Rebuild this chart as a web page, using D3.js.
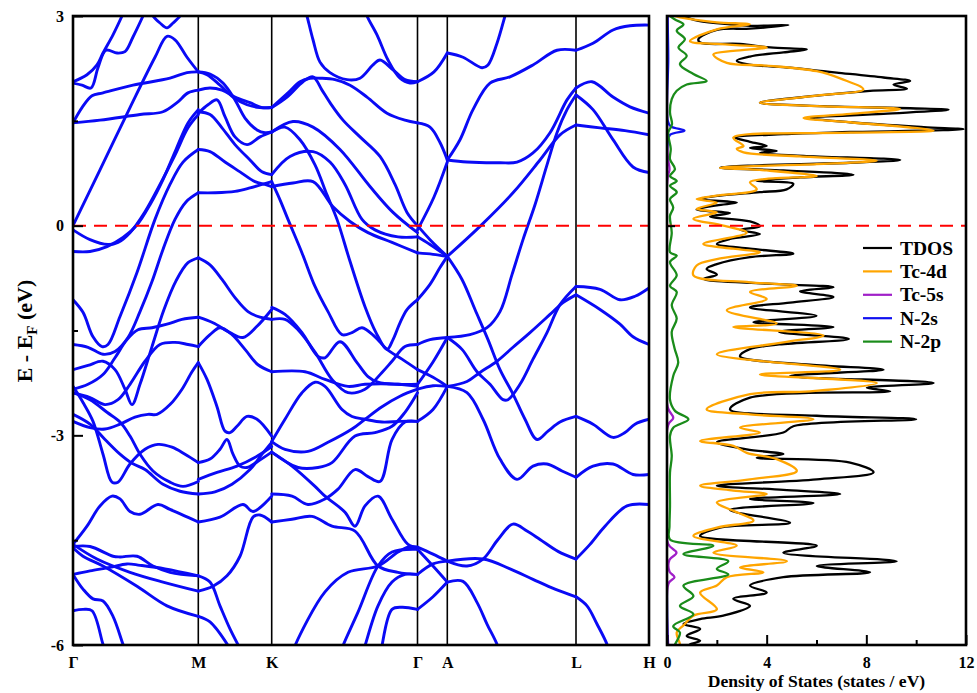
<!DOCTYPE html>
<html><head><meta charset="utf-8">
<script src="https://cdn.jsdelivr.net/npm/d3@7"></script>
<style>
body{margin:0;background:#fff}
svg{display:block}
text{font-family:"Liberation Serif","Times New Roman",serif;font-weight:bold}
</style></head>
<body><svg id="c" width="977" height="693"></svg>
<script>
// ---------- DATA ----------
const kSym = [0, 1.253, 1.987, 3.445, 3.743, 5.03, 5.76];
const kLabels = ["Γ","M","K","Γ","A","L","H"];
const eTicksMajor = [3, 0, -3, -6];
const eTicksMinor = [1.5, -1.5, -4.5];
const dosTicksMajor = [0, 4, 8, 12];
const dosTicksMinor = [2, 6, 10];

// bands: arrays of [k, E(eV)] per path segment
const bandsGM = [
 [[0,2.06],[0.14,2.16],[0.24,2.3],[0.30,2.47],[0.40,2.73],[0.49,3.0],[0.52,3.1]],
 [[0,2.04],[0.09,2.01],[0.18,1.97],[0.25,2.26],[0.33,2.51],[0.44,2.47],[0.52,2.49],[0.60,2.7],[0.70,3.0],[0.73,3.1]],
 [[0.77,3.1],[0.80,3.0],[0.87,2.9],[0.94,2.83],[1.0,2.9],[1.07,3.0],[1.10,3.1]],
 [[0,0],[0.27,0.8],[0.57,1.69],[0.82,2.41],[0.94,2.71],[1.02,2.66],[1.14,2.41],[1.253,2.2]],
 [[0,1.47],[0.09,1.69],[0.19,1.86],[0.30,1.9],[0.60,2.01],[0.97,2.11],[1.14,2.19],[1.253,2.2]],
 [[0,1.47],[0.27,1.51],[0.67,1.59],[0.90,1.63],[1.04,1.76],[1.15,1.9],[1.253,1.94]],
 [[0,-0.06],[0.17,-0.2],[0.35,-0.27],[0.45,-0.24],[0.57,-0.1],[0.72,0.2],[0.87,0.59],[1.02,1.01],[1.15,1.4],[1.253,1.59]],
 [[0,-0.37],[0.17,-0.37],[0.34,-0.3],[0.50,-0.17],[0.64,0.01],[0.77,0.3],[0.90,0.66],[1.03,1.09],[1.15,1.47],[1.253,1.66]],
 [[0,-1.06],[0.10,-1.24],[0.20,-1.59],[0.29,-1.73],[0.35,-1.7],[0.47,-1.3],[0.64,-0.67],[0.82,0.09],[0.97,0.59],[1.10,0.91],[1.253,1.09]],
 [[0,-1.7],[0.15,-1.74],[0.30,-1.84],[0.42,-1.8],[0.55,-1.6],[0.67,-1.23],[0.79,-0.8],[0.90,-0.34],[1.02,0.09],[1.13,0.34],[1.253,0.47]],
 [[0,-2.06],[0.15,-2.0],[0.30,-1.94],[0.42,-2.06],[0.52,-2.34],[0.59,-2.56],[0.67,-2.27],[0.79,-1.73],[0.91,-1.2],[1.03,-0.79],[1.15,-0.53],[1.253,-0.46]],
 [[0,-2.34],[0.15,-2.27],[0.30,-2.13],[0.42,-1.89],[0.54,-1.63],[0.65,-1.49],[0.79,-1.46],[0.94,-1.41],[1.09,-1.34],[1.253,-1.31]],
 [[0,-2.39],[0.17,-2.46],[0.32,-2.56],[0.45,-2.49],[0.57,-2.27],[0.72,-1.94],[0.87,-1.7],[1.02,-1.67],[1.15,-1.7],[1.253,-1.73]],
 [[0,-2.8],[0.17,-2.89],[0.32,-2.91],[0.47,-2.84],[0.62,-2.74],[0.75,-2.7],[0.84,-2.7],[0.97,-2.56],[1.09,-2.34],[1.19,-2.09],[1.253,-1.96]],
 [[0,-2.3],[0.10,-2.53],[0.20,-2.8],[0.30,-3.27],[0.39,-3.67],[0.45,-3.67],[0.57,-3.41],[0.72,-3.2],[0.85,-3.13],[0.99,-3.17],[1.12,-3.27],[1.253,-3.39]],
 [[0,-2.39],[0.17,-2.49],[0.34,-2.67],[0.47,-2.81],[0.57,-3.01],[0.67,-3.27],[0.80,-3.51],[0.97,-3.67],[1.10,-3.73],[1.253,-3.66]],
 [[0,-2.7],[0.17,-2.84],[0.32,-3.06],[0.47,-3.27],[0.59,-3.4],[0.72,-3.49],[0.90,-3.7],[1.07,-3.8],[1.253,-3.84]],
 [[0,-4.56],[0.14,-4.3],[0.27,-4.01],[0.39,-3.87],[0.47,-3.91],[0.57,-4.09],[0.67,-4.13],[0.85,-3.99],[0.97,-4.06],[1.253,-4.24]],
 [[0,-4.59],[0.17,-4.59],[0.40,-4.73],[0.47,-4.74],[0.64,-4.73],[0.80,-4.87],[0.97,-4.96],[1.253,-5.01]],
 [[0,-4.99],[0.17,-4.94],[0.37,-4.89],[0.54,-4.84],[0.67,-4.86],[0.92,-4.91],[1.253,-5.01]],
 [[0,-4.56],[0.24,-4.77],[0.57,-4.96],[0.90,-5.1],[1.253,-5.23]],
 [[0,-4.61],[0.10,-4.73],[0.30,-4.87],[0.64,-5.16],[0.94,-5.44],[1.253,-5.59]],
 [[0,-4.99],[0.10,-5.2],[0.20,-5.34],[0.30,-5.37],[0.40,-5.59],[0.50,-5.99],[0.53,-6.1]],
 [[0,-5.51],[0.10,-5.49],[0.19,-5.51],[0.30,-5.99],[0.33,-6.1]]
];
const bandsMK = [
 [[1.253,2.2],[1.34,2.16],[1.47,2.01],[1.60,1.84],[1.74,1.73],[1.87,1.69],[1.987,1.69]],
 [[1.253,2.2],[1.37,2.17],[1.50,2.04],[1.62,1.8],[1.72,1.54],[1.84,1.37],[1.92,1.33],[1.987,1.34]],
 [[1.253,1.94],[1.37,1.97],[1.49,1.94],[1.62,1.84],[1.77,1.76],[1.89,1.69],[1.987,1.69]],
 [[1.253,1.61],[1.35,1.73],[1.44,1.8],[1.52,1.56],[1.62,1.27],[1.74,1.16],[1.87,1.27],[1.987,1.34]],
 [[1.253,1.63],[1.37,1.59],[1.49,1.4],[1.62,1.16],[1.77,0.94],[1.89,0.77],[1.987,0.73]],
 [[1.253,1.09],[1.37,1.06],[1.52,0.91],[1.67,0.77],[1.82,0.63],[1.92,0.59],[1.987,0.56]],
 [[1.253,0.47],[1.42,0.47],[1.62,0.49],[1.77,0.54],[1.89,0.59],[1.987,0.63]],
 [[1.253,-0.46],[1.37,-0.56],[1.49,-0.77],[1.62,-1.03],[1.75,-1.23],[1.87,-1.31],[1.987,-1.34]],
 [[1.253,-1.31],[1.40,-1.39],[1.57,-1.53],[1.70,-1.6],[1.84,-1.44],[1.987,-1.2]],
 [[1.253,-1.73],[1.37,-1.56],[1.47,-1.46],[1.59,-1.56],[1.72,-1.77],[1.85,-1.99],[1.987,-2.09]],
 [[1.253,-1.96],[1.34,-2.2],[1.44,-2.59],[1.52,-2.94],[1.57,-2.96],[1.64,-2.87],[1.74,-2.73],[1.84,-2.77],[1.987,-3.01]],
 [[1.253,-3.39],[1.37,-3.34],[1.47,-3.2],[1.54,-3.06],[1.60,-3.27],[1.67,-3.44],[1.74,-3.46],[1.85,-3.37],[1.987,-3.24]],
 [[1.253,-3.63],[1.44,-3.53],[1.64,-3.44],[1.84,-3.3],[1.987,-3.16]],
 [[1.253,-3.84],[1.42,-3.81],[1.59,-3.7],[1.77,-3.49],[1.89,-3.27],[1.987,-3.1]],
 [[1.253,-4.24],[1.47,-4.17],[1.70,-3.99],[1.80,-4.09],[1.987,-3.87]],
 [[1.253,-5.23],[1.40,-5.16],[1.54,-5.01],[1.67,-4.73],[1.80,-4.17],[1.87,-4.14],[1.987,-4.24]],
 [[1.253,-5.01],[1.37,-5.1],[1.47,-5.44],[1.57,-5.77],[1.67,-6.05]],
 [[1.253,-5.59],[1.37,-5.67],[1.57,-6.05]]
];
const bandsKG = [
 [[1.987,1.69],[2.14,1.84],[2.30,2.06],[2.40,2.13],[2.49,1.94],[2.57,1.76],[2.70,1.51],[2.87,1.27],[3.07,0.99],[3.22,0.59],[3.34,0.19],[3.445,0]],
 [[1.987,1.69],[2.15,1.9],[2.27,2.06],[2.37,2.11],[2.47,2.11],[2.62,2.09],[2.77,2.01],[2.94,1.84],[3.14,1.61],[3.32,1.51],[3.445,1.47]],
 [[2.32,3.1],[2.34,3.0],[2.40,2.66],[2.47,2.34],[2.57,2.19],[2.74,2.09],[2.87,2.11],[3.0,2.3],[3.07,2.37],[3.20,2.23],[3.32,2.09],[3.445,2.06]],
 [[2.92,3.1],[2.94,3.0],[3.04,2.73],[3.15,2.37],[3.27,2.11],[3.37,2.04],[3.445,2.06]],
 [[1.987,1.34],[2.20,1.49],[2.40,1.41],[2.67,1.09],[2.97,0.56],[3.20,0.19],[3.445,-0.1]],
 [[1.987,0.73],[2.17,0.99],[2.40,1.06],[2.57,0.91],[2.72,0.59],[2.89,0.09],[3.02,-0.06],[3.25,-0.16],[3.445,-0.16]],
 [[1.987,0.56],[2.20,0.61],[2.40,0.63],[2.60,0.27],[2.77,0.06],[2.95,-0.1],[3.19,-0.24],[3.445,-0.39]],
 [[1.987,0.63],[2.07,0.37],[2.15,0.09],[2.29,-0.39],[2.42,-0.87],[2.55,-1.23],[2.69,-1.56],[2.79,-1.53],[2.89,-1.46],[3.02,-1.59],[3.14,-1.77],[3.29,-1.91],[3.445,-2.06]],
 [[1.987,1.34],[2.12,1.41],[2.27,1.23],[2.42,0.87],[2.54,0.44],[2.64,0.09],[2.77,-0.51],[2.92,-1.16],[3.03,-1.53],[3.14,-1.77],[3.20,-1.63],[3.27,-1.39],[3.34,-1.2],[3.445,-1.06]],
 [[1.987,-1.17],[2.12,-1.27],[2.29,-1.53],[2.45,-1.87],[2.52,-1.89],[2.67,-1.66],[2.84,-1.96],[2.95,-2.16],[3.05,-2.24],[3.25,-2.27],[3.445,-2.27]],
 [[1.987,-1.34],[2.12,-1.34],[2.25,-1.49],[2.42,-1.81],[2.59,-2.2],[2.75,-2.39],[2.92,-2.34],[3.09,-2.1],[3.19,-1.94],[3.32,-1.73],[3.445,-1.7]],
 [[1.987,-2.09],[2.32,-2.09],[2.52,-2.2],[2.75,-2.3],[2.92,-2.27],[3.25,-2.27],[3.445,-2.3]],
 [[1.987,-3.09],[2.12,-2.77],[2.29,-2.39],[2.42,-2.24],[2.52,-2.3],[2.69,-2.63],[2.79,-2.73],[2.92,-2.77],[3.09,-2.81],[3.27,-2.8],[3.445,-2.8]],
 [[1.987,-3.24],[2.25,-3.46],[2.45,-3.46],[2.59,-3.39],[2.82,-3.01],[3.02,-2.96],[3.19,-2.87],[3.32,-2.67],[3.445,-2.39]],
 [[1.987,-3.09],[2.12,-3.2],[2.35,-3.23],[2.55,-3.1],[2.79,-2.91],[2.92,-2.77],[3.09,-2.59],[3.27,-2.44],[3.445,-2.34]],
 [[1.987,-3.24],[2.19,-3.44],[2.42,-3.73],[2.52,-3.87],[2.72,-4.1],[2.82,-4.3],[2.92,-4.01],[3.05,-3.87],[3.19,-4.2],[3.35,-4.56],[3.445,-4.6]],
 [[1.987,-3.84],[2.19,-3.87],[2.35,-3.99],[2.52,-3.91],[2.65,-3.77],[2.82,-3.49],[2.95,-3.59],[3.07,-3.66],[3.19,-3.06],[3.32,-2.81],[3.445,-2.8]],
 [[1.987,-4.24],[2.19,-4.2],[2.39,-4.16],[2.59,-4.3],[2.82,-4.37],[3.05,-4.87],[3.25,-4.96],[3.445,-4.99]],
 [[2.20,-6.1],[2.22,-6.01],[2.52,-5.24],[2.75,-4.96],[3.05,-4.87],[3.25,-4.67],[3.35,-4.6],[3.445,-4.6]],
 [[2.68,-6.1],[2.70,-6.01],[2.85,-5.53],[3.05,-4.87],[3.19,-4.67],[3.445,-4.63]],
 [[2.90,-6.1],[2.92,-6.01],[3.05,-5.44],[3.19,-5.1],[3.32,-4.99],[3.445,-4.99]],
 [[3.08,-6.1],[3.09,-6.01],[3.19,-5.49],[3.29,-5.46],[3.445,-5.49]]
];
const bandsGA = [
 [[3.445,2.06],[3.61,2.2],[3.743,2.47]],
 [[3.445,1.47],[3.57,1.41],[3.67,1.19],[3.743,0.94]],
 [[3.445,-0.06],[3.61,0.41],[3.743,0.91]],
 [[3.445,-0.16],[3.57,-0.27],[3.743,-0.44]],
 [[3.445,-0.39],[3.60,-0.41],[3.743,-0.44]],
 [[3.445,0],[3.57,-0.2],[3.743,-0.44]],
 [[3.445,-1.06],[3.57,-0.84],[3.67,-0.6],[3.743,-0.44]],
 [[3.445,-1.7],[3.57,-1.63],[3.743,-1.6]],
 [[3.445,-2.06],[3.60,-2.17],[3.743,-2.3]],
 [[3.445,-2.34],[3.60,-2.29],[3.743,-2.3]],
 [[3.445,-2.8],[3.60,-2.63],[3.743,-2.3]],
 [[3.445,-2.27],[3.60,-1.95],[3.743,-1.6]],
 [[3.445,-4.6],[3.60,-4.7],[3.743,-4.8]],
 [[3.445,-4.99],[3.60,-4.84],[3.743,-4.8]],
 [[3.445,-5.49],[3.60,-5.31],[3.743,-5.1]],
 [[3.445,-4.63],[3.60,-4.87],[3.743,-5.1]]
];
const bandsAL = [
 [[3.743,2.47],[3.90,2.41],[4.09,2.26],[4.15,2.3],[4.24,2.61],[4.32,3.0],[4.34,3.1]],
 [[3.743,0.94],[3.87,1.23],[4.0,1.66],[4.17,2.04],[4.37,2.13],[4.60,2.3],[4.84,2.51],[5.03,2.51]],
 [[3.743,0.94],[3.94,0.91],[4.27,0.9],[4.44,0.91],[4.60,1.04],[4.77,1.33],[4.94,1.8],[5.03,1.97]],
 [[3.743,-0.44],[4.07,-0.01],[4.40,0.47],[4.67,0.94],[4.87,1.3],[5.03,1.44]],
 [[3.743,-1.6],[3.97,-1.56],[4.14,-1.46],[4.27,-1.23],[4.39,-0.7],[4.50,-0.2],[4.62,0.3],[4.74,0.87],[4.84,1.33],[4.94,1.66],[5.03,1.87]],
 [[3.743,-1.6],[3.89,-1.77],[4.04,-2.09],[4.17,-2.27],[4.30,-2.49],[4.35,-2.49],[4.47,-2.27],[4.60,-1.91],[4.74,-1.53],[4.87,-1.13],[5.03,-0.87]],
 [[3.743,-2.3],[3.94,-2.23],[4.07,-2.1],[4.24,-1.94],[4.40,-1.74],[4.57,-1.53],[4.77,-1.27],[4.90,-1.1],[5.03,-0.99]],
 [[3.743,-0.44],[3.89,-0.77],[4.02,-1.2],[4.15,-1.63],[4.27,-2.06],[4.40,-2.41],[4.52,-2.77],[4.64,-3.06],[4.75,-2.94],[4.87,-2.81],[5.03,-2.73]],
 [[3.743,-2.3],[3.94,-2.39],[4.10,-2.77],[4.27,-3.34],[4.44,-3.63],[4.60,-3.44],[4.74,-3.41],[4.89,-3.51],[5.03,-3.6]],
 [[3.743,-4.8],[3.94,-4.87],[4.10,-4.77],[4.25,-4.49],[4.40,-4.27],[4.54,-4.37],[4.67,-4.49],[4.85,-4.66],[5.03,-4.77]],
 [[3.743,-4.8],[4.10,-4.77],[4.37,-4.91],[4.60,-5.06],[4.82,-5.2],[5.03,-5.31]],
 [[3.743,-5.1],[3.90,-5.09],[4.04,-5.39],[4.14,-5.7],[4.24,-5.99],[4.26,-6.1]]
];
const bandsLH = [
 [[5.03,2.51],[5.20,2.61],[5.40,2.8],[5.57,2.86],[5.76,2.87]],
 [[5.03,1.97],[5.19,2.06],[5.40,1.84],[5.57,1.7],[5.76,1.61]],
 [[5.03,1.44],[5.27,1.4],[5.52,1.36],[5.76,1.3]],
 [[5.03,1.87],[5.20,1.66],[5.40,1.23],[5.60,0.84],[5.76,0.76]],
 [[5.03,-0.87],[5.27,-0.91],[5.47,-1.06],[5.62,-1.01],[5.76,-0.89]],
 [[5.03,-0.99],[5.27,-1.2],[5.47,-1.41],[5.60,-1.59],[5.76,-1.7]],
 [[5.03,-2.73],[5.20,-2.84],[5.40,-3.03],[5.52,-2.96],[5.62,-2.84],[5.76,-2.77]],
 [[5.03,-3.6],[5.20,-3.44],[5.40,-3.41],[5.60,-3.56],[5.76,-3.56]],
 [[5.03,-4.77],[5.17,-4.56],[5.32,-4.3],[5.54,-4.01],[5.76,-3.99]],
 [[5.03,-5.31],[5.14,-5.44],[5.24,-5.7],[5.34,-5.99],[5.36,-6.1]]
];

// DOS: arrays of [E(eV), states/eV]
const tdos = [[3.0,0.5],[2.99,0.66],[2.93,1.26],[2.88,2.53],[2.86,3.33],[2.87,4.87],[2.82,3.33],[2.8,2.0],[2.67,1.26],[2.62,1.33],[2.6,2.93],[2.55,4.14],[2.52,5.61],[2.48,4.67],[2.42,3.33],[2.36,2.8],[2.31,3.2],[2.26,4.94],[2.21,6.28],[2.19,6.81],[2.12,8.69],[2.07,9.76],[2.02,9.09],[1.96,9.63],[1.93,8.15],[1.86,6.01],[1.76,3.73],[1.71,6.28],[1.68,9.76],[1.66,11.3],[1.6,8.69],[1.54,5.74],[1.48,7.35],[1.41,10.3],[1.38,11.9],[1.34,7.35],[1.31,4.67],[1.26,2.73],[1.2,3.33],[1.14,4.0],[1.11,3.33],[1.07,4.4],[1.04,3.73],[1.0,5.48],[0.94,9.36],[0.9,7.35],[0.86,3.33],[0.83,2.13],[0.79,4.67],[0.73,7.48],[0.69,5.34],[0.64,3.6],[0.6,5.07],[0.52,4.8],[0.48,3.73],[0.43,2.13],[0.38,1.33],[0.33,2.8],[0.29,2.0],[0.23,1.19],[0.18,2.53],[0.13,1.73],[0.06,3.33],[-0.01,3.73],[-0.06,2.93],[-0.12,3.73],[-0.19,2.53],[-0.26,2.0],[-0.33,3.33],[-0.4,5.07],[-0.45,3.33],[-0.55,2.0],[-0.62,1.59],[-0.7,2.0],[-0.76,1.46],[-0.83,4.0],[-0.88,6.68],[-0.94,5.34],[-1.02,6.68],[-1.1,4.94],[-1.17,3.33],[-1.29,6.0],[-1.38,3.47],[-1.45,6.68],[-1.52,4.5],[-1.62,7.3],[-1.7,4.5],[-1.77,3.3],[-1.87,2.93],[-1.99,5.74],[-2.06,8.69],[-2.15,4.94],[-2.25,10.7],[-2.32,8.02],[-2.37,8.96],[-2.46,3.33],[-2.63,2.53],[-2.72,6.01],[-2.77,10.0],[-2.87,5.07],[-2.96,4.67],[-3.1,2.0],[-3.2,3.2],[-3.27,4.67],[-3.32,3.6],[-3.39,7.35],[-3.53,8.29],[-3.63,6.01],[-3.72,2.0],[-3.78,4.67],[-3.84,6.95],[-3.91,3.33],[-3.97,5.88],[-4.07,2.53],[-4.25,4.94],[-4.32,2.13],[-4.44,1.33],[-4.58,6.01],[-4.68,4.67],[-4.8,9.22],[-4.87,6.01],[-4.96,8.15],[-5.03,4.67],[-5.15,3.33],[-5.25,4.0],[-5.34,2.66],[-5.44,3.33],[-5.58,2.26],[-5.63,1.33],[-5.70,0.66],[-5.77,1.33],[-5.87,0.79],[-5.94,1.33],[-5.99,0.92],[-6.0,0.9]];
const tc4d = [[3.0,0.3],[2.98,0.52],[2.91,2.0],[2.88,3.33],[2.81,2.0],[2.64,0.92],[2.6,2.0],[2.55,4.0],[2.5,2.66],[2.45,1.86],[2.33,2.4],[2.29,4.0],[2.21,6.01],[2.1,7.0],[1.95,7.88],[1.86,6.01],[1.76,3.73],[1.71,6.01],[1.67,9.36],[1.6,7.35],[1.54,5.48],[1.48,7.35],[1.36,10.7],[1.33,7.35],[1.26,2.66],[1.14,3.07],[1.1,2.8],[1.05,3.07],[0.99,5.34],[0.93,8.42],[0.88,6.01],[0.83,2.13],[0.79,4.0],[0.71,6.01],[0.67,4.0],[0.62,3.33],[0.52,3.6],[0.43,2.0],[0.38,1.19],[0.33,2.0],[0.24,1.19],[0.19,2.0],[0.1,1.06],[0.0,2.26],[-0.1,3.2],[-0.26,1.46],[-0.33,2.66],[-0.38,3.73],[-0.48,2.0],[-0.57,1.19],[-0.71,1.06],[-0.81,3.33],[-0.86,5.21],[-0.95,3.33],[-1.05,4.0],[-1.21,2.4],[-1.4,4.4],[-1.45,2.66],[-1.57,6.28],[-1.67,4.67],[-1.84,2.0],[-2.06,6.95],[-2.13,3.73],[-2.25,8.42],[-2.37,5.74],[-2.41,3.33],[-2.63,1.59],[-2.7,3.33],[-2.77,5.88],[-2.89,2.93],[-2.96,3.73],[-3.08,1.33],[-3.15,2.66],[-3.25,3.2],[-3.34,4.4],[-3.51,5.21],[-3.63,3.33],[-3.72,1.33],[-3.79,2.66],[-3.84,4.0],[-3.96,2.0],[-4.08,2.66],[-4.22,3.47],[-4.32,2.0],[-4.44,1.06],[-4.58,2.8],[-4.68,1.86],[-4.8,4.81],[-4.89,2.93],[-4.96,3.87],[-5.03,2.4],[-5.15,2.0],[-5.25,1.33],[-5.49,2.0],[-5.58,1.06],[-5.72,0.66],[-5.82,0.39],[-5.99,0.52],[-6.0,0.5]];
const tc5s = [[3.0,0.02],[1.0,0.03],[0.8,0.1],[0.7,0.03],[-2.6,0.03],[-2.75,0.25],[-2.85,0.05],[-4.55,0.04],[-4.68,0.38],[-4.78,0.1],[-4.95,0.1],[-5.03,0.3],[-5.12,0.06],[-6.0,0.05]];
const n2s = [[3.0,0.02],[2.4,0.05],[1.5,0.03],[1.42,0.15],[1.36,0.7],[1.3,0.12],[1.2,0.03],[-6.0,0.02]];
const n2p = [[3.0,0.12],[2.95,0.32],[2.88,0.66],[2.79,0.39],[2.67,0.72],[2.55,0.46],[2.43,0.79],[2.31,0.52],[2.17,1.06],[2.07,1.59],[2.02,0.79],[1.93,0.39],[1.81,0.19],[1.62,0.12],[1.45,0.2],[1.33,0.05],[1.1,0.15],[0.95,0.12],[0.81,0.32],[0.71,0.12],[0.64,0.39],[0.57,0.12],[0.48,0.39],[0.38,0.12],[0.26,0.25],[0.14,0.12],[-0.1,0.19],[-0.38,0.12],[-0.43,0.39],[-0.52,0.12],[-0.71,0.39],[-0.86,0.12],[-0.95,0.39],[-1.14,0.19],[-1.33,0.39],[-1.52,0.19],[-1.75,0.3],[-1.96,0.45],[-2.15,0.25],[-2.49,0.12],[-2.65,0.32],[-2.77,0.86],[-2.89,0.25],[-3.01,0.12],[-3.3,0.19],[-3.53,0.12],[-4.01,0.12],[-4.3,0.1],[-4.49,0.12],[-4.58,1.86],[-4.7,0.66],[-4.8,2.46],[-4.91,2.0],[-4.99,2.46],[-5.15,0.66],[-5.3,1.06],[-5.44,0.52],[-5.56,1.06],[-5.73,0.25],[-5.82,0.52],[-5.99,0.32],[-6.0,0.3]];

const dosNames = ["TDOS","Tc-4d","Tc-5s","N-2s","N-2p"];
const dosColors = ["#000000","#FFA500","#A020C8","#1010F0","#1A8C1A"];

// ---------- CHART ----------
const svg = d3.select("#c");
const x = d3.scaleLinear().domain([0, 5.76]).range([73, 649]);
const y = d3.scaleLinear().domain([-6, 3]).range([645, 16]);
const xd = d3.scaleLinear().domain([0, 12]).range([667, 966]);
const FONT = '"Liberation Serif","Times New Roman",serif';

const defs = svg.append("defs");
defs.append("clipPath").attr("id","cb").append("rect")
  .attr("x", x(0)).attr("y", y(3)).attr("width", x(5.76)-x(0)).attr("height", y(-6)-y(3));
defs.append("clipPath").attr("id","cd").append("rect")
  .attr("x", xd(0)).attr("y", y(3)).attr("width", xd(12)-xd(0)).attr("height", y(-6)-y(3));

// high-symmetry vertical lines
svg.append("g").selectAll("line").data(kSym.slice(1,-1)).join("line")
  .attr("x1", d=>x(d)).attr("x2", d=>x(d)).attr("y1", y(3)).attr("y2", y(-6))
  .attr("stroke","#000").attr("stroke-width",1.6);

// bands
const bandLine = d3.line().x(d=>x(d[0])).y(d=>y(d[1])).curve(d3.curveCatmullRom.alpha(0.5));
const allBands = [].concat(bandsGM, bandsMK, bandsKG, bandsGA, bandsAL, bandsLH);
svg.append("g").attr("clip-path","url(#cb)").selectAll("path").data(allBands).join("path")
  .attr("d", bandLine).attr("fill","none").attr("stroke","#0a0af5")
  .attr("stroke-width",2.9).attr("stroke-linejoin","round").attr("stroke-linecap","round");

// DOS
const dosSeries = [tdos, tc4d, tc5s, n2s, n2p];
const dosLine = d3.line().x(d=>xd(d[1])).y(d=>y(d[0])).curve(d3.curveCatmullRom.alpha(0.5));
svg.append("g").attr("clip-path","url(#cd)").selectAll("path").data(dosSeries).join("path")
  .attr("d", dosLine).attr("fill","none").attr("stroke",(d,i)=>dosColors[i])
  .attr("stroke-width",2.3).attr("stroke-linejoin","round");

// Fermi level
[[x(0), x(5.76)], [xd(0), xd(12)]].forEach(r=>{
  svg.append("line").attr("x1", r[0]).attr("x2", r[1]).attr("y1", y(0)).attr("y2", y(0))
    .attr("stroke","#ff0000").attr("stroke-width",2).attr("stroke-dasharray","13,8");
});

// frames
svg.append("rect").attr("x", x(0)).attr("y", y(3)).attr("width", x(5.76)-x(0)).attr("height", y(-6)-y(3))
  .attr("fill","none").attr("stroke","#000").attr("stroke-width",2.6);
svg.append("rect").attr("x", xd(0)).attr("y", y(3)).attr("width", xd(12)-xd(0)).attr("height", y(-6)-y(3))
  .attr("fill","none").attr("stroke","#000").attr("stroke-width",2.6);

function styleAxis(g, size){
  g.select(".domain").remove();
  g.selectAll("line").attr("stroke","#000").attr("stroke-width",2);
  g.selectAll("text").attr("font-family",FONT).attr("font-weight","bold").attr("font-size",size).attr("fill","#000");
}
// left energy axis
const gy = svg.append("g").attr("transform",`translate(${x(0)},0)`)
  .call(d3.axisLeft(y).tickValues(eTicksMajor).tickSizeInner(-10).tickSizeOuter(0).tickPadding(9).tickFormat(d=>String(d)));
styleAxis(gy, 16);
const gy2 = svg.append("g").attr("transform",`translate(${x(0)},0)`)
  .call(d3.axisLeft(y).tickValues(eTicksMinor).tickSizeInner(-5).tickSizeOuter(0).tickFormat(""));
styleAxis(gy2, 16);
// DOS zero tick
const gyd = svg.append("g").attr("transform",`translate(${xd(0)},0)`)
  .call(d3.axisLeft(y).tickValues([0]).tickSizeInner(-8).tickSizeOuter(0).tickFormat(""));
styleAxis(gyd, 16);

// k-path labels
const gx = svg.append("g").attr("transform",`translate(0,${y(-6)})`)
  .call(d3.axisBottom(x).tickValues(kSym).tickSize(0).tickPadding(12).tickFormat((d,i)=>kLabels[i]));
styleAxis(gx, 16);
gx.selectAll("line").remove();

// DOS axis
const gd = svg.append("g").attr("transform",`translate(0,${y(-6)})`)
  .call(d3.axisBottom(xd).tickValues(dosTicksMajor).tickSizeInner(-10).tickSizeOuter(0).tickPadding(12).tickFormat(d=>String(d)));
styleAxis(gd, 16);
const gd2 = svg.append("g").attr("transform",`translate(0,${y(-6)})`)
  .call(d3.axisBottom(xd).tickValues(dosTicksMinor).tickSizeInner(-5).tickSizeOuter(0).tickFormat(""));
styleAxis(gd2, 16);

// axis titles
const yl = svg.append("text").attr("transform","translate(32,331) rotate(-90)")
  .attr("text-anchor","middle").attr("font-size",22).attr("font-family",FONT).attr("font-weight","bold");
yl.append("tspan").text("E - E");
yl.append("tspan").attr("dy",5).attr("font-size",15).text("F");
yl.append("tspan").attr("dy",-5).text(" (eV)");

svg.append("text").attr("x", (xd(0)+xd(12))/2).attr("y", 687).attr("text-anchor","middle")
  .attr("font-size",17.6).attr("font-family",FONT).attr("font-weight","bold")
  .text("Density of States (states / eV)");

// legend
const lg = svg.append("g");
dosNames.forEach((n,i)=>{
  const ly = 248 + i*23.4;
  lg.append("line").attr("x1",863).attr("x2",892).attr("y1",ly).attr("y2",ly)
    .attr("stroke",dosColors[i]).attr("stroke-width",2.2);
  lg.append("text").attr("x",900).attr("y",ly+6.5).attr("font-size",19.5)
    .attr("font-family",FONT).attr("font-weight","bold").text(n);
});
</script></body></html>
